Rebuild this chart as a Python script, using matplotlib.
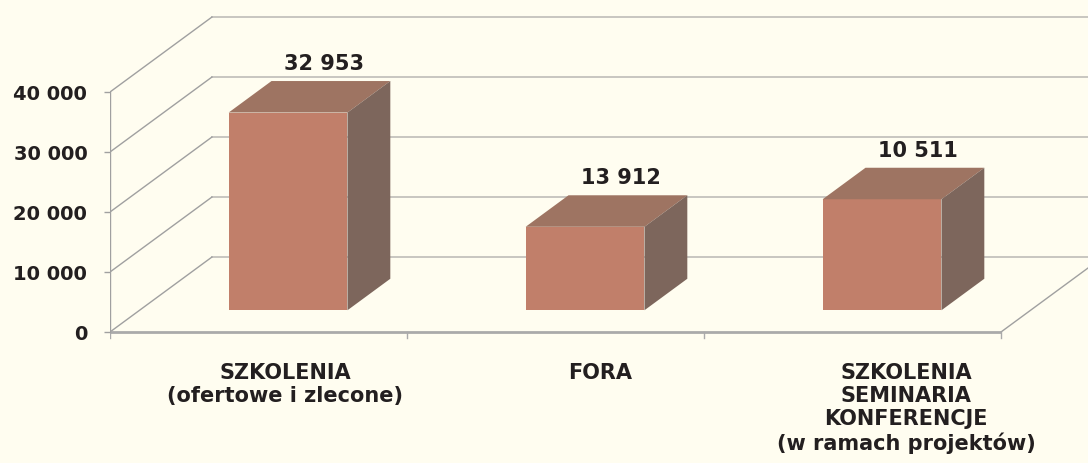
import matplotlib
matplotlib.use("Agg")
import matplotlib.pyplot as plt
from matplotlib.patches import Polygon

# ---- data ----
categories = ["SZKOLENIA\n(ofertowe i zlecone)", "FORA",
              "SZKOLENIA\nSEMINARIA\nKONFERENCJE\n(w ramach projektów)"]
bar_values = [32953, 13912, 18500]          # heights as drawn in the picture
value_labels = ["32 953", "13 912", "10 511"]
y_ticks = [0, 10000, 20000, 30000, 40000]
y_tick_labels = ["0", "10 000", "20 000", "30 000", "40 000"]

# ---- style / layout ----
BG = "#FFFDF0"
FRONT = "#C17F6A"
TOP = "#9E7462"
SIDE = "#7D665C"
GRID = "#C8C6C0"
DIAG = "#A0A0A0"
TXT = "#231F20"
FONT = "DejaVu Sans"

DX, DY = 0.3434, 12500      # full depth offset (data units)
F0, F1 = 0.29, 0.71         # bar depth fractions
BW = 0.40                   # bar width
cat_label_dx = [0.09, 0.15, 0.18]

fig = plt.figure(figsize=(10.88, 4.64), dpi=100, facecolor=BG)
ax = fig.add_axes([110 / 1088, 0, 978 / 1088, 1])
ax.set_facecolor(BG)
ax.set_xlim(-0.5, -0.5 + 978 / 297)
ax.set_ylim(-131 / 0.006, 333 / 0.006)
for s in ax.spines.values():
    s.set_visible(False)

n = len(categories)
x_left, x_right = -0.5, n - 0.5

# back wall gridlines and left wall diagonals
for v in y_ticks:
    ax.plot([x_left + DX, ax.get_xlim()[1]], [v + DY, v + DY], color=GRID, lw=1.4, zorder=1)
    ax.plot([x_left, x_left + DX], [v, v + DY], color=DIAG, lw=1.0, zorder=1)

# floor
ax.plot([x_left, x_right], [0, 0], color="#AAAAAA", lw=2.0, zorder=2, solid_capstyle="butt")
ax.plot([x_right, x_right + DX], [0, DY], color=DIAG, lw=1.0, zorder=1)
for xb in [x_left + k for k in range(n + 1)]:
    ax.plot([xb, xb], [0, -1000], color="#AAAAAA", lw=1.0, zorder=2)

# y axis line
ax.plot([x_left, x_left], [0, y_ticks[-1]], color="#A0A0A0", lw=1.0, zorder=2)
ax.set_yticks(y_ticks)
ax.set_yticklabels(y_tick_labels)
ax.tick_params(axis="y", length=4.3, width=1.0, color="#A0A0A0", pad=12,
               labelsize=14, labelcolor=TXT)
for t in ax.get_yticklabels():
    t.set_fontfamily(FONT)
    t.set_fontweight("bold")
ax.set_xticks([])

# bars
ddx, ddy = (F1 - F0) * DX, (F1 - F0) * DY
for i, h in enumerate(bar_values):
    x0 = i - BW / 2 + F0 * DX
    x1 = i + BW / 2 + F0 * DX
    b = F0 * DY
    t = h + F0 * DY
    ax.add_patch(Polygon([(x0, b), (x1, b), (x1, t), (x0, t)], closed=True,
                         facecolor=FRONT, edgecolor="none", zorder=3))
    ax.add_patch(Polygon([(x0, t), (x1, t), (x1 + ddx, t + ddy), (x0 + ddx, t + ddy)],
                         closed=True, facecolor=TOP, edgecolor="none", zorder=3))
    ax.add_patch(Polygon([(x1, b), (x1, t), (x1 + ddx, t + ddy), (x1 + ddx, b + ddy)],
                         closed=True, facecolor=SIDE, edgecolor="none", zorder=3))
    ax.text(i + F0 * DX + 0.12, h + F1 * DY + 3000, value_labels[i],
            ha="center", va="center", fontsize=15, fontweight="bold",
            family=FONT, color=TXT, zorder=4)

# category labels
for i, lab in enumerate(categories):
    ax.text(i + cat_label_dx[i], -5000, lab, ha="center", va="top",
            multialignment="center", fontsize=15, fontweight="bold",
            family=FONT, color=TXT, linespacing=1.2, zorder=4)

fig.savefig("out.png", dpi=100, facecolor=BG)
